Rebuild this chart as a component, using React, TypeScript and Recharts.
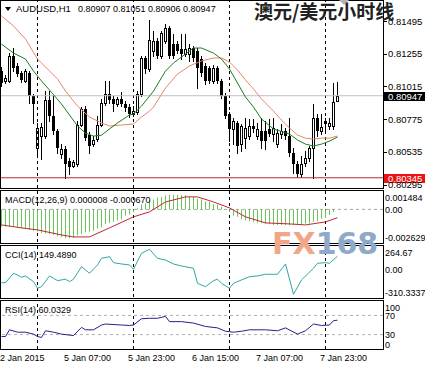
import React from 'react';
import { ComposedChart, Bar, Line, XAxis, YAxis, ReferenceLine } from 'recharts';

const FONT = '"Liberation Sans", Arial, Helvetica, sans-serif';

const symbol = 'AUDUSD,H1';
const title = '澳元/美元小时线';

const opens = [
  0.81128, 0.81055, 0.81055, 0.81238, 0.81165, 0.81114, 0.81055, 0.81114, 0.80945, 0.80563,
  0.80651, 0.80651, 0.80915, 0.80798, 0.80688, 0.80519, 0.80556, 0.80468, 0.80431, 0.80446,
  0.80732, 0.80849, 0.80658, 0.80592, 0.80629, 0.80732, 0.80893, 0.80960, 0.80922, 0.80886,
  0.80922, 0.80886, 0.80864, 0.80813, 0.80827, 0.80960, 0.81224, 0.81143, 0.81275, 0.81348,
  0.81238, 0.81348, 0.81444, 0.81326, 0.81326, 0.81290, 0.81253, 0.81253, 0.81297, 0.81275,
  0.81216, 0.81165, 0.81150, 0.81055, 0.81150, 0.81055, 0.80945, 0.80813, 0.80703, 0.80747,
  0.80592, 0.80636, 0.80651, 0.80725, 0.80651, 0.80688, 0.80688, 0.80703, 0.80666, 0.80592,
  0.80666, 0.80688, 0.80651, 0.80527, 0.80446, 0.80372, 0.80453, 0.80490, 0.80563, 0.80783,
  0.80688, 0.80761, 0.80725, 0.80725, 0.80907,
];
const highs = [
  0.81158, 0.81099, 0.81260, 0.81297, 0.81187, 0.81128, 0.81143, 0.81128, 0.80960, 0.80747,
  0.80747, 0.80981, 0.80981, 0.80945, 0.80703, 0.80592, 0.80578, 0.80490, 0.80475, 0.80761,
  0.80864, 0.80871, 0.80680, 0.80651, 0.80798, 0.80922, 0.81055, 0.81055, 0.80945, 0.80937,
  0.80973, 0.80908, 0.80886, 0.80871, 0.80981, 0.81238, 0.81238, 0.81502, 0.81422, 0.81370,
  0.81422, 0.81473, 0.81459, 0.81400, 0.81348, 0.81400, 0.81400, 0.81326, 0.81312, 0.81297,
  0.81238, 0.81187, 0.81165, 0.81172, 0.81165, 0.81070, 0.80967, 0.80827, 0.80783, 0.80761,
  0.80739, 0.80783, 0.80776, 0.80776, 0.80747, 0.80783, 0.80761, 0.80776, 0.80783, 0.80703,
  0.80739, 0.80710, 0.80783, 0.80563, 0.80468, 0.80504, 0.80541, 0.80578, 0.80886, 0.80813,
  0.80813, 0.80783, 0.80783, 0.81040, 0.81051,
];
const lows = [
  0.81018, 0.81040, 0.81048, 0.81128, 0.81092, 0.81048, 0.81048, 0.80893, 0.80747, 0.80504,
  0.80482, 0.80636, 0.80761, 0.80666, 0.80527, 0.80490, 0.80345, 0.80372, 0.80424, 0.80431,
  0.80725, 0.80622, 0.80527, 0.80578, 0.80614, 0.80725, 0.80878, 0.80893, 0.80834, 0.80871,
  0.80871, 0.80834, 0.80791, 0.80798, 0.80813, 0.80945, 0.81114, 0.81128, 0.81238, 0.81224,
  0.81224, 0.81334, 0.81224, 0.81224, 0.81260, 0.81216, 0.81238, 0.81202, 0.81202, 0.81004,
  0.81092, 0.81033, 0.81040, 0.81040, 0.81040, 0.80930, 0.80783, 0.80614, 0.80592, 0.80527,
  0.80541, 0.80563, 0.80629, 0.80680, 0.80629, 0.80563, 0.80556, 0.80651, 0.80614, 0.80570,
  0.80636, 0.80629, 0.80504, 0.80380, 0.80350, 0.80350, 0.80431, 0.80468, 0.80345, 0.80651,
  0.80666, 0.80680, 0.80703, 0.80703, 0.80906,
];
const closes = [
  0.81040, 0.81077, 0.81238, 0.81150, 0.81106, 0.81062, 0.81128, 0.80945, 0.80886, 0.80710,
  0.80717, 0.80915, 0.80798, 0.80688, 0.80563, 0.80556, 0.80446, 0.80424, 0.80460, 0.80732,
  0.80849, 0.80636, 0.80578, 0.80622, 0.80732, 0.80893, 0.80960, 0.80915, 0.80886, 0.80922,
  0.80886, 0.80856, 0.80813, 0.80834, 0.80960, 0.81224, 0.81143, 0.81356, 0.81348, 0.81238,
  0.81407, 0.81444, 0.81238, 0.81238, 0.81275, 0.81253, 0.81290, 0.81297, 0.81224, 0.81150,
  0.81114, 0.81055, 0.81055, 0.81150, 0.81055, 0.80945, 0.80798, 0.80703, 0.80761, 0.80578,
  0.80725, 0.80710, 0.80725, 0.80703, 0.80703, 0.80614, 0.80614, 0.80666, 0.80710, 0.80673,
  0.80688, 0.80651, 0.80527, 0.80446, 0.80372, 0.80446, 0.80490, 0.80563, 0.80783, 0.80688,
  0.80717, 0.80739, 0.80747, 0.80900, 0.80947,
];

// [bar index, value]
const fastMA: [number, number][] = [
  [0, 0.81326], [3, 0.81260], [6, 0.81216], [8, 0.81128], [10, 0.81055], [12, 0.80989],
  [15, 0.80886], [19, 0.80725], [21, 0.80673], [23, 0.80651], [25, 0.80658], [27, 0.80703],
  [29, 0.80747], [32, 0.80806], [33, 0.80813], [35, 0.80871], [38, 0.80981], [41, 0.81128],
  [43, 0.81187], [46, 0.81253], [48, 0.81297], [50, 0.81297], [53, 0.81260], [55, 0.81216],
  [57, 0.81143], [59, 0.81040], [61, 0.80937], [63, 0.80864], [65, 0.80776], [68, 0.80703],
  [72, 0.80666], [74, 0.80622], [76, 0.80592], [78, 0.80578], [80, 0.80592], [82, 0.80614],
  [84, 0.80644],
];
const slowMA: [number, number][] = [
  [0, 0.81532], [3, 0.81459], [6, 0.81363], [9, 0.81216], [11, 0.81158], [14, 0.81070],
  [16, 0.80981], [19, 0.80871], [22, 0.80791], [25, 0.80747], [27, 0.80725], [30, 0.80732],
  [33, 0.80739], [35, 0.80791], [37, 0.80834], [38, 0.80864], [41, 0.81004], [44, 0.81106],
  [47, 0.81165], [50, 0.81202], [53, 0.81224], [55, 0.81224], [57, 0.81194], [59, 0.81136],
  [61, 0.81062], [63, 0.80996], [65, 0.80923], [68, 0.80834], [70, 0.80768], [72, 0.80710],
  [74, 0.80658], [76, 0.80636], [78, 0.80629], [80, 0.80636], [82, 0.80636], [84, 0.80651],
];

const macdHist = [
  -0.00139, -0.00139, -0.00140, -0.00142, -0.00148, -0.00152, -0.00155, -0.00165, -0.00172, -0.00179,
  -0.00190, -0.00195, -0.00200, -0.00206, -0.00218, -0.00225, -0.00232, -0.00232, -0.00228, -0.00210,
  -0.00200, -0.00185, -0.00180, -0.00172, -0.00155, -0.00145, -0.00120, -0.00110, -0.00100, -0.00088,
  -0.00080, -0.00050, -0.00040, -0.00020, 0.00010, 0.00040, 0.00050, 0.00075, 0.00080, 0.00095,
  0.00100, 0.00112, 0.00117, 0.00117, 0.00117, 0.00115, 0.00115, 0.00105, 0.00100, 0.00088,
  0.00082, 0.00065, 0.00060, 0.00042, 0.00038, 0.00020, 0.00003, -0.00020, -0.00050, -0.00060,
  -0.00080, -0.00088, -0.00095, -0.00100, -0.00108, -0.00110, -0.00115, -0.00120, -0.00125, -0.00125,
  -0.00125, -0.00125, -0.00128, -0.00125, -0.00125, -0.00122, -0.00115, -0.00112, -0.00100, -0.00095,
  -0.00075, -0.00070, -0.00045, -0.00020, 0.000008,
];
const macdSignal: [number, number][] = [
  [0, -0.00125], [5, -0.00149], [9, -0.00165], [15, -0.00206], [18, -0.00222], [22, -0.00222],
  [27, -0.00149], [33, -0.00060], [37, -0.00020], [41, 0.00060], [46, 0.00101], [49, 0.00101],
  [53, 0.00060], [57, 0.00012], [61, -0.00060], [66, -0.00109], [72, -0.00117], [76, -0.00125],
  [81, -0.00101], [84, -0.00067],
];
const cciValues: [number, number][] = [
  [0, -149], [1, -149], [3, -43], [4, -62], [5, -88], [6, -73], [8, -137], [9, -212], [10, -194],
  [12, -73], [13, -99], [14, -126], [16, -110], [17, -137], [18, -110], [20, 32], [22, -43],
  [24, 51], [25, 126], [27, 144], [28, 77], [30, 62], [32, 51], [33, 2], [35, 183], [37, 228],
  [39, 126], [41, 107], [43, 62], [45, 39], [48, 14], [49, -156], [51, -194], [53, -126],
  [54, -110], [55, -156], [57, -212], [58, -156], [60, -118], [62, -81], [64, -73], [66, -54],
  [69, -54], [71, 62], [73, -280], [75, -118], [78, 14], [79, 70], [81, 77], [82, 70], [84, 149.489],
];
const rsiValues: [number, number][] = [
  [0, 26], [1, 26], [2, 40], [4, 35], [6, 35], [8, 31], [9, 26], [10, 24], [11, 38], [13, 35],
  [15, 31], [18, 28], [20, 45], [21, 40], [23, 40], [25, 50], [26, 52], [30, 50], [32, 49],
  [33, 50], [35, 63], [37, 64], [39, 64], [41, 68], [42, 57], [45, 57], [48, 54], [51, 47],
  [54, 44], [56, 37], [58, 35], [60, 37], [62, 40], [66, 40], [69, 38], [71, 44], [74, 31],
  [76, 38], [78, 52], [80, 49], [82, 50], [83, 59], [84, 60.0329],
];

const priceTicks = [0.81495, 0.81255, 0.81015, 0.80775, 0.80535, 0.80295];
const bidPrice = 0.80947;
const lowPrice = 0.80345;
const daySeparators = [9, 33, 57, 81];
const timeTickIdx = [0, 16, 32, 48, 64, 80];
const timeTickLabels = ['2 Jan 2015', '5 Jan 07:00', '5 Jan 23:00', '6 Jan 15:00', '7 Jan 07:00', '7 Jan 23:00'];
const macdTicks = [0.001484, 0, -0.002629];
const macdTickLabels = ['0.001484', '0.00', '-0.002629'];
const cciTicks = [264.67, 0, -310.3337];
const cciTickLabels = ['264.67', '0.00', '-310.3337'];
const rsiTicks = [100, 70, 30, 0];
const rsiTickLabels = ['100', '70', '30', '0'];
const rsiLevels = [70, 30];

const X_DOMAIN: [number, number] = [-0.375, 95.375];
const PRICE_DOMAIN: [number, number] = [0.8027, 0.81642];

const fastMap = new Map(fastMA);
const slowMap = new Map(slowMA);
const sigMap = new Map(macdSignal);
const cciMap = new Map(cciValues);
const rsiMap = new Map(rsiValues);

const rows = opens.map((o, i) => ({
  i,
  open: o,
  high: highs[i],
  low: lows[i],
  close: closes[i],
  range: [lows[i], highs[i]],
  fast: fastMap.has(i) ? fastMap.get(i) : null,
  slow: slowMap.has(i) ? slowMap.get(i) : null,
  hist: macdHist[i],
  signal: sigMap.has(i) ? sigMap.get(i) : null,
  cci: cciMap.has(i) ? cciMap.get(i) : null,
  rsi: rsiMap.has(i) ? rsiMap.get(i) : null,
}));

const last = opens.length - 1;

const Candle = (props: any) => {
  const { x, y, width, height, payload } = props;
  if (payload == null || x == null || y == null) return null;
  const top = Math.min(y, y + height);
  const bot = Math.max(y, y + height);
  const { open, close, high, low } = payload;
  const span = high - low || 1e-9;
  const toY = (v: number) => top + ((high - v) / span) * (bot - top);
  const cx = Math.floor(x + width / 2);
  const yo = Math.round(toY(open));
  const yc = Math.round(toY(close));
  const yt = Math.min(yo, yc);
  const yb = Math.max(yo, yc);
  const up = close >= open;
  return (
    <g>
      <line x1={cx + 0.5} x2={cx + 0.5} y1={Math.round(top)} y2={Math.round(bot) + 1} stroke="#000" strokeWidth={1} />
      {up ? (
        <rect x={cx - 0.5} y={yt + 0.5} width={2} height={Math.max(yb - yt, 1)} fill="#fff" stroke="#000" strokeWidth={1} />
      ) : (
        <rect x={cx - 1} y={yt} width={3} height={Math.max(yb - yt, 1)} fill="#000" />
      )}
    </g>
  );
};

const PriceTick = (props: any) => {
  const { x, y, payload } = props;
  const yy = Math.round(y) + 0.5;
  return (
    <g>
      <line x1={x + 1} x2={x + 4} y1={yy} y2={yy} stroke="#000" strokeWidth={1} />
      <text x={x + 5} y={y} dy={3.5} fontSize={9.5} fontFamily={FONT} fill="#000">
        {Number(payload.value).toFixed(5)}
      </text>
    </g>
  );
};

const makePanelTick = (ticks: number[], labels: string[]) => (props: any) => {
  const { x, y, payload } = props;
  const idx = ticks.indexOf(payload.value);
  const n = ticks.length;
  const dy = idx === 0 ? 9.5 : idx === n - 1 ? -1.5 : 3.5;
  return (
    <text x={x + 2} y={y} dy={dy} fontSize={9} fontFamily={FONT} fill="#000">
      {labels[idx] ?? ''}
    </text>
  );
};

const TimeTick = (props: any) => {
  const { x, y, payload } = props;
  const idx = timeTickIdx.indexOf(payload.value);
  return (
    <text x={x - 1.5} y={y} dy={12} fontSize={9} fontFamily={FONT} fill="#000" textAnchor="start">
      {timeTickLabels[idx] ?? ''}
    </text>
  );
};

const PriceTag = (props: any) => {
  const { viewBox, txt, bg } = props;
  if (!viewBox) return null;
  const x = viewBox.x + viewBox.width;
  const y = Math.round(viewBox.y);
  return (
    <g>
      <rect x={x} y={y - 4} width={42} height={9} fill={bg} />
      <text x={x + 5} y={y} dy={3.5} fontSize={9.5} fontFamily={FONT} fill="#fff">
        {txt}
      </text>
    </g>
  );
};

const sepLines = (prefix: string) =>
  daySeparators.map((d) => (
    <ReferenceLine key={prefix + d} x={d} stroke="#000" strokeWidth={1} strokeDasharray="3 3" />
  ));

const zeroMargin = { top: 0, right: 0, bottom: 0, left: 0 };

const panelBorder = (top: number, height: number): React.CSSProperties => ({
  position: 'absolute',
  left: 0,
  top,
  width: 384,
  height,
  border: '1px solid #000',
  boxSizing: 'border-box',
  pointerEvents: 'none',
});

export default function App() {
  const hdrNums = `${opens[last].toFixed(5)} ${highs[last].toFixed(5)} ${lows[last].toFixed(5)} ${closes[last].toFixed(5)}`;
  const lastSig = macdSignal[macdSignal.length - 1][1];
  const lastCci = cciValues[cciValues.length - 1][1];
  const lastRsi = rsiValues[rsiValues.length - 1][1];
  return (
    <div
      style={{
        position: 'absolute',
        left: 0,
        top: 0,
        width: 425,
        height: 368,
        background: '#fff',
        overflow: 'hidden',
        fontFamily: FONT,
      }}
    >
      {/* main price panel */}
      <div style={{ position: 'absolute', left: 0, top: 0 }}>
        <ComposedChart width={425} height={189} data={rows} margin={{ top: 1, right: 0, bottom: 1, left: 0 }}>
          <XAxis dataKey="i" type="number" domain={X_DOMAIN} hide allowDataOverflow />
          <YAxis
            orientation="right"
            width={42}
            domain={PRICE_DOMAIN}
            ticks={priceTicks}
            interval={0}
            tick={(p: any) => <PriceTick {...p} />}
            tickLine={false}
            axisLine={false}
            tickSize={0}
            tickMargin={0}
            allowDataOverflow
          />
          {sepLines('m')}
          <ReferenceLine y={bidPrice} stroke="#c0c0c0" strokeWidth={1} label={<PriceTag txt={bidPrice.toFixed(5)} bg="#000" />} />
          <ReferenceLine y={lowPrice} stroke="#c0282d" strokeWidth={1} label={<PriceTag txt={lowPrice.toFixed(5)} bg="#ee1111" />} />
          <Bar dataKey="range" barSize={3} shape={(p: any) => <Candle {...p} />} isAnimationActive={false} />
          <Line dataKey="slow" type="linear" stroke="#e8866e" strokeWidth={1} dot={false} connectNulls isAnimationActive={false} />
          <Line dataKey="fast" type="linear" stroke="#1e7b1e" strokeWidth={1} dot={false} connectNulls isAnimationActive={false} />
        </ComposedChart>
      </div>

      {/* MACD panel */}
      <div style={{ position: 'absolute', left: 0, top: 191 }}>
        <ComposedChart width={425} height={51} data={rows} margin={zeroMargin}>
          <XAxis dataKey="i" type="number" domain={X_DOMAIN} hide allowDataOverflow />
          <YAxis
            orientation="right"
            width={42}
            domain={[macdTicks[2], macdTicks[0]]}
            ticks={macdTicks}
            interval={0}
            tick={makePanelTick(macdTicks, macdTickLabels)}
            tickLine={false}
            axisLine={false}
            tickSize={0}
            tickMargin={0}
            allowDataOverflow
          />
          <ReferenceLine y={0} stroke="#a8a8a8" strokeDasharray="3 3" />
          {sepLines('a')}
          {rows.map((r) => (
            <ReferenceLine
              key={'h' + r.i}
              segment={[
                { x: r.i, y: 0 },
                { x: r.i, y: r.hist },
              ]}
              stroke="#6cc35a"
              strokeWidth={1}
            />
          ))}
          <Line dataKey="signal" type="linear" stroke="#c0282d" strokeWidth={1} dot={false} connectNulls isAnimationActive={false} />
        </ComposedChart>
      </div>

      {/* CCI panel */}
      <div style={{ position: 'absolute', left: 0, top: 246 }}>
        <ComposedChart width={425} height={51} data={rows} margin={zeroMargin}>
          <XAxis dataKey="i" type="number" domain={X_DOMAIN} hide allowDataOverflow />
          <YAxis
            orientation="right"
            width={42}
            domain={[cciTicks[2], cciTicks[0]]}
            ticks={cciTicks}
            interval={0}
            tick={makePanelTick(cciTicks, cciTickLabels)}
            tickLine={false}
            axisLine={false}
            tickSize={0}
            tickMargin={0}
            allowDataOverflow
          />
          {sepLines('c')}
          <Line dataKey="cci" type="linear" stroke="#32a6a4" strokeWidth={1} dot={false} connectNulls isAnimationActive={false} />
        </ComposedChart>
      </div>

      {/* RSI panel + time axis */}
      <div style={{ position: 'absolute', left: 0, top: 301 }}>
        <ComposedChart width={425} height={67} data={rows} margin={zeroMargin}>
          <XAxis
            dataKey="i"
            type="number"
            domain={X_DOMAIN}
            ticks={timeTickIdx}
            interval={0}
            height={19}
            tick={(p: any) => <TimeTick {...p} />}
            tickLine={false}
            axisLine={false}
            tickSize={0}
            tickMargin={0}
            allowDataOverflow
          />
          <YAxis
            orientation="right"
            width={42}
            domain={[0, 100]}
            ticks={rsiTicks}
            interval={0}
            tick={makePanelTick(rsiTicks, rsiTickLabels)}
            tickLine={false}
            axisLine={false}
            tickSize={0}
            tickMargin={0}
            allowDataOverflow
          />
          {rsiLevels.map((l) => (
            <ReferenceLine key={'lv' + l} y={l} stroke="#b0b0b0" strokeDasharray="3 3" />
          ))}
          {sepLines('r')}
          <Line dataKey="rsi" type="linear" stroke="#22228a" strokeWidth={1} dot={false} connectNulls isAnimationActive={false} />
        </ComposedChart>
      </div>

      <div style={panelBorder(0, 189)} />
      <div style={panelBorder(190, 54)} />
      <div style={panelBorder(245, 54)} />
      <div style={panelBorder(300, 50)} />

      <svg width={425} height={368} style={{ position: 'absolute', left: 0, top: 0, pointerEvents: 'none' }}>
        <polygon points="5,7 11,7 8,11" fill="#000" />
        <text x={16} y={12} fontSize={9.5} fontFamily={FONT} fill="#000">{symbol}</text>
        <text x={78} y={12} fontSize={9} fontFamily={FONT} fill="#000">{hdrNums}</text>
        <polygon points="339,0 349,0 344,5" fill="#b4b4b4" />
        <text x={254} y={19} fontSize={19} fontWeight="bold" fontFamily='"Noto Sans CJK SC", sans-serif' fill="#222">
          {title}
        </text>
        <text x={5} y={203} fontSize={9} fontFamily={FONT} fill="#000">
          {`MACD(12,26,9) ${macdHist[last].toFixed(6)} ${lastSig.toFixed(6)}`}
        </text>
        <text x={5} y={258} fontSize={9} fontFamily={FONT} fill="#000">
          {`CCI(14) ${lastCci.toFixed(4)}`}
        </text>
        <text x={5} y={313} fontSize={9} fontFamily={FONT} fill="#000">
          {`RSI(14) ${lastRsi.toFixed(4)}`}
        </text>
        <text x={272} y={254} fontSize={30} fontWeight="bold" fontFamily='"DejaVu Sans", sans-serif'>
          <tspan fill="#f2a688">FX</tspan>
          <tspan fill="#8fa9c8">168</tspan>
        </text>
      </svg>
    </div>
  );
}
